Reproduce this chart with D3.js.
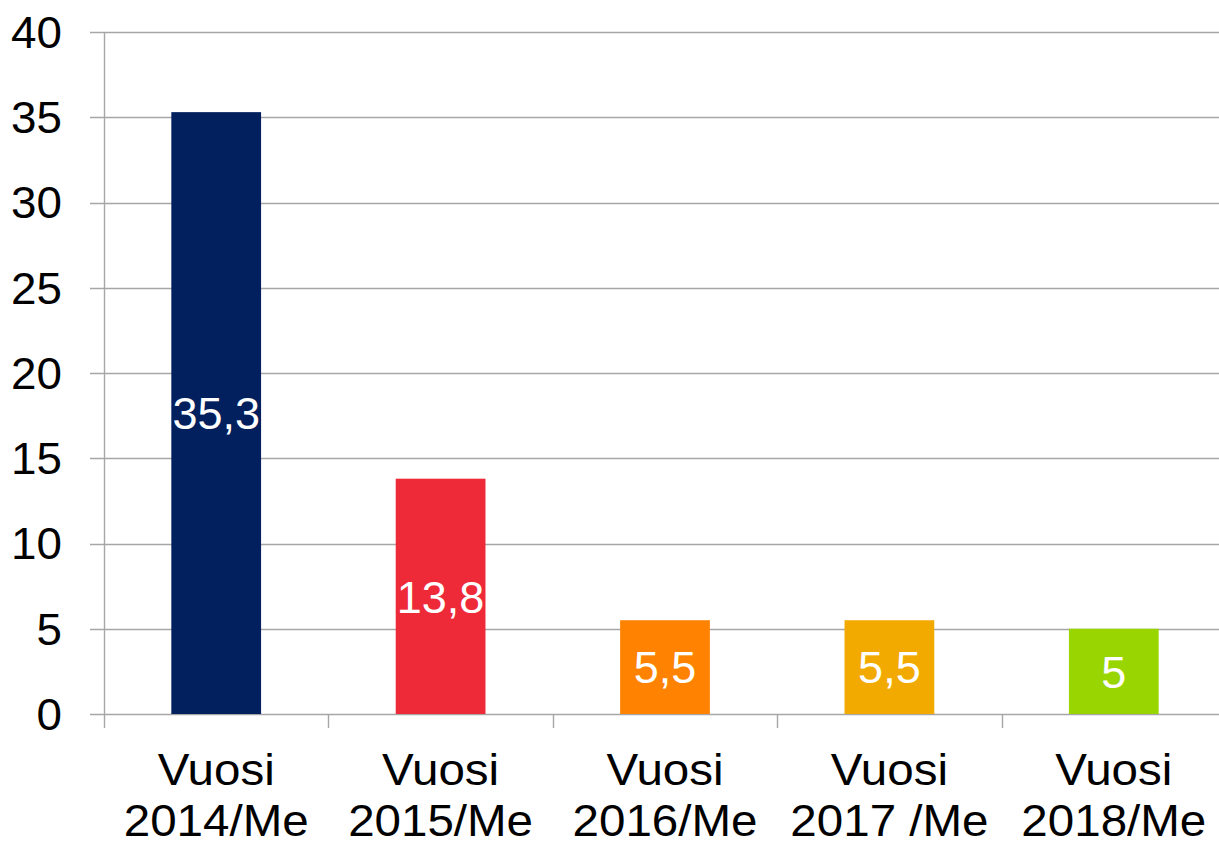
<!DOCTYPE html>
<html>
<head>
<meta charset="utf-8">
<script src="https://cdn.jsdelivr.net/npm/d3@7"></script>
<style>
  html, body { margin: 0; padding: 0; background: #fff; overflow: hidden; }
  svg { display: block; font-family: "Liberation Sans", Arial, sans-serif; }
</style>
</head>
<body>
<div id="chart"></div>
<script>
// chart data
const categories = ["Vuosi 2014/Me", "Vuosi 2015/Me", "Vuosi 2016/Me", "Vuosi 2017 /Me", "Vuosi 2018/Me"];
const values = [35.3, 13.8, 5.5, 5.5, 5];
const valueLabels = ["35,3", "13,8", "5,5", "5,5", "5"];
const barColors = ["#021f5e", "#ee2938", "#ff8300", "#f2aa00", "#99d500"];
const yTicks = [0, 5, 10, 15, 20, 25, 30, 35, 40];

const width = 1219, height = 845;
let margin = ({top: 32, right: -7, bottom: 131, left: 104});

const svg = d3.select("#chart")
  .append("svg")
  .attr("width", width)
  .attr("height", height);

let x = d3.scaleBand()
  .domain(categories)
  .range([margin.left, width - margin.right])
  .paddingInner(0.6)
  .paddingOuter(0.3);

let y = d3.scaleLinear()
  .domain([0, 40])
  .range([height - margin.bottom, margin.top]);

const gridColor = "#a6a6a6";
const stretch = 1.08; // the text in the original is a bit wide

// horizontal gridlines + left tick marks
svg.append("g")
  .selectAll("line")
  .data(yTicks)
  .join("line")
    .attr("x1", margin.left - 14)
    .attr("x2", width - margin.right)
    .attr("y1", d => Math.round(y(d)) + 0.5)
    .attr("y2", d => Math.round(y(d)) + 0.5)
    .attr("stroke", gridColor)
    .attr("stroke-width", 1.4);

// y tick labels
svg.append("g")
  .selectAll("text")
  .data(yTicks)
  .join("text")
    .attr("transform", d => `translate(62,${y(d)}) scale(1.04,1)`)
    .attr("dy", "0.36em")
    .attr("text-anchor", "end")
    .attr("font-size", "44px")
    .attr("fill", "#000")
    .text(d => d);

// category boundaries
const step = x.step();
const bounds = categories.map((c, i) => margin.left + i * step);
svg.append("g")
  .selectAll("line")
  .data(bounds)
  .join("line")
    .attr("x1", d => Math.round(d) + 0.5)
    .attr("x2", d => Math.round(d) + 0.5)
    .attr("y1", (d, i) => i === 0 ? margin.top : y(0))
    .attr("y2", y(0) + 14)
    .attr("stroke", gridColor)
    .attr("stroke-width", 1.4);

// bars
svg.append("g")
  .selectAll("rect")
  .data(values)
  .join("rect")
    .attr("x", (d, i) => x(categories[i]))
    .attr("width", x.bandwidth())
    .attr("y", d => y(d))
    .attr("height", d => y(0) - y(d))
    .attr("fill", (d, i) => barColors[i]);

// value labels
svg.append("g")
  .selectAll("text")
  .data(values)
  .join("text")
    .attr("x", (d, i) => x(categories[i]) + x.bandwidth() / 2)
    .attr("y", d => (y(d) + y(0)) / 2)
    .attr("dy", "0.36em")
    .attr("text-anchor", "middle")
    .attr("font-size", "45px")
    .attr("fill", "#fff")
    .text((d, i) => valueLabels[i]);

// category labels (two lines)
const xl = svg.append("g")
  .selectAll("text")
  .data(categories)
  .join("text")
    .attr("transform", d => `translate(${x(d) + x.bandwidth() / 2},0) scale(${stretch},1)`)
    .attr("text-anchor", "middle")
    .attr("font-size", "44px")
    .attr("fill", "#000");

xl.append("tspan")
  .attr("x", 0)
  .attr("y", 785)
  .text(d => d.slice(0, d.indexOf(" ")));

xl.append("tspan")
  .attr("x", 0)
  .attr("y", 836)
  .text(d => d.slice(d.indexOf(" ") + 1));
</script>
</body>
</html>
